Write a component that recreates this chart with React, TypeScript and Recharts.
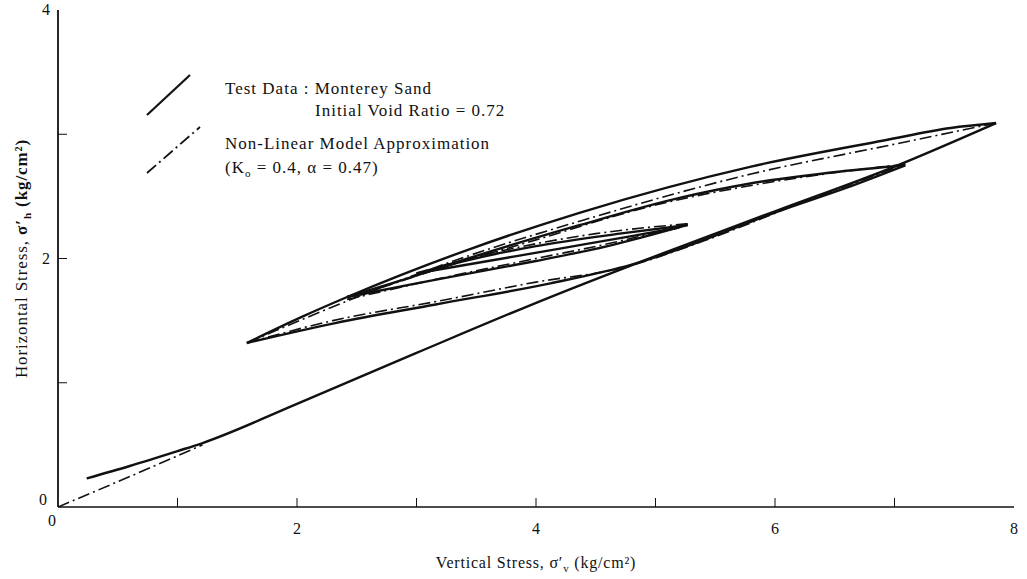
import React from 'react';
import { LineChart, Line, XAxis, YAxis, Legend, Label } from 'recharts';

// test data: Monterey sand, one branch per array
const testLoading = [
  { x: 0.24, y: 0.23 }, { x: 0.6, y: 0.33 }, { x: 1.0, y: 0.45 }, { x: 1.21, y: 0.515 },
  { x: 2, y: 0.83 }, { x: 3, y: 1.24 }, { x: 4.12, y: 1.69 }, { x: 5, y: 2.02 },
  { x: 6, y: 2.38 }, { x: 7, y: 2.74 }, { x: 7.85, y: 3.09 },
];
const testUnload1 = [
  { x: 7.85, y: 3.09 }, { x: 7.47, y: 3.05 }, { x: 6.91, y: 2.95 }, { x: 5.8, y: 2.74 },
  { x: 4.37, y: 2.37 }, { x: 3.43, y: 2.07 }, { x: 2.42, y: 1.69 }, { x: 2.04, y: 1.53 },
  { x: 1.58, y: 1.32 },
];
const testReload1 = [
  { x: 1.58, y: 1.32 }, { x: 2.32, y: 1.48 }, { x: 3.16, y: 1.63 }, { x: 4.12, y: 1.8 },
  { x: 4.8, y: 1.95 }, { x: 5.38, y: 2.14 }, { x: 6.0, y: 2.37 }, { x: 6.6, y: 2.57 },
  { x: 7.09, y: 2.75 },
];
const testUnload2 = [
  { x: 7.09, y: 2.75 }, { x: 6.55, y: 2.7 }, { x: 5.77, y: 2.6 }, { x: 5.21, y: 2.49 },
  { x: 4.37, y: 2.27 }, { x: 3.43, y: 2.0 }, { x: 2.86, y: 1.82 }, { x: 2.42, y: 1.69 },
];
const testReload2 = [
  { x: 2.42, y: 1.69 }, { x: 3.0, y: 1.8 }, { x: 3.5, y: 1.89 }, { x: 4.0, y: 1.98 },
  { x: 4.6, y: 2.1 }, { x: 5.27, y: 2.27 },
];
const testUnload3 = [
  { x: 5.27, y: 2.27 }, { x: 4.7, y: 2.2 }, { x: 4.0, y: 2.1 }, { x: 3.4, y: 1.98 }, { x: 3.0, y: 1.88 },
];
const testReload3 = [
  { x: 3.0, y: 1.88 }, { x: 3.6, y: 1.98 }, { x: 4.2, y: 2.08 }, { x: 4.8, y: 2.18 }, { x: 5.2, y: 2.25 },
];

// non-linear model (K0 = 0.4, alpha = 0.47)
const modelLoading = [{ x: 0, y: 0 }, { x: 0.6, y: 0.245 }, { x: 1.21, y: 0.5 }];
const modelUnload1 = [
  { x: 7.85, y: 3.09 }, { x: 7.0, y: 2.92 }, { x: 5.8, y: 2.68 }, { x: 4.4, y: 2.31 },
  { x: 3.4, y: 2.01 }, { x: 2.4, y: 1.65 }, { x: 1.58, y: 1.32 },
];
const modelReload1 = [
  { x: 1.58, y: 1.32 }, { x: 2.3, y: 1.5 }, { x: 3.2, y: 1.66 }, { x: 4.0, y: 1.81 },
  { x: 4.7, y: 1.92 }, { x: 5.4, y: 2.14 }, { x: 6.2, y: 2.44 }, { x: 7.09, y: 2.76 },
];
const modelUnload2 = [
  { x: 7.09, y: 2.76 }, { x: 6.0, y: 2.62 }, { x: 5.0, y: 2.43 }, { x: 4.0, y: 2.15 },
  { x: 3.0, y: 1.86 }, { x: 2.42, y: 1.67 },
];
const modelReload2 = [
  { x: 2.42, y: 1.67 }, { x: 3.2, y: 1.84 }, { x: 4.0, y: 2.0 }, { x: 4.7, y: 2.14 }, { x: 5.27, y: 2.28 },
];
const modelUnload3 = [
  { x: 5.27, y: 2.28 }, { x: 4.5, y: 2.2 }, { x: 3.8, y: 2.08 }, { x: 3.2, y: 1.94 },
];

const xTicks = [0, 1, 2, 3, 4, 5, 6, 7, 8];
const yTicks = [0, 1, 2, 3, 4];

const testSeries = [testLoading, testUnload1, testReload1, testUnload2, testReload2, testUnload3, testReload3];
const modelSeries = [modelLoading, modelUnload1, modelReload1, modelUnload2, modelReload2, modelUnload3];

const FONT = '"Liberation Serif", "DejaVu Serif", serif';
const INK = '#111';
const DASH_DOT = '12 4 2 4';

const XTick = (props: any) => {
  const { x, y, payload } = props;
  const v = payload.value;
  const label = v % 2 === 0;
  return (
    <g>
      {v > 0 && v < 8 && <line x1={x} y1={y} x2={x} y2={y - 9} stroke={INK} strokeWidth={1} />}
      {label && (
        <text x={v === 0 ? x - 6 : x} y={v === 0 ? y + 19 : y + 27} textAnchor="middle"
          fontFamily={FONT} fontSize={16} fill={INK}>{v}</text>
      )}
    </g>
  );
};

const YTick = (props: any) => {
  const { x, y, payload } = props;
  const v = payload.value;
  const label = v % 2 === 0;
  return (
    <g>
      {v > 0 && v < 4 && <line x1={x} y1={y} x2={x + 9} y2={y} stroke={INK} strokeWidth={1} />}
      {label && (
        <text x={v === 0 ? x - 11 : x - 8} y={v === 0 ? y - 2 : y + 5} textAnchor="end"
          fontFamily={FONT} fontSize={16} fill={INK}>{v}</text>
      )}
    </g>
  );
};

const XTitle = (props: any) => {
  const { viewBox } = props;
  const cx = viewBox.x + viewBox.width / 2;
  return (
    <text x={cx} y={viewBox.y + 61} textAnchor="middle" fontFamily={FONT} fontSize={16} fill={INK}
      style={{ letterSpacing: '0.8px' }}>
      <tspan>Vertical Stress,  σ′</tspan>
      <tspan dy={4} fontSize={11}>v</tspan>
      <tspan dy={-4}>  (kg/cm²)</tspan>
    </text>
  );
};

const YTitle = (props: any) => {
  const { viewBox } = props;
  const cy = viewBox.y + viewBox.height / 2;
  return (
    <text x={0} y={0} transform={`translate(27, ${cy}) rotate(-90)`} textAnchor="middle"
      fontFamily={FONT} fontSize={17} fill={INK} style={{ letterSpacing: '0.9px' }}>
      <tspan>Horizontal Stress,  </tspan>
      <tspan fontWeight="bold">σ′</tspan>
      <tspan dy={4} fontSize={11} fontWeight="bold">h</tspan>
      <tspan dy={-4} fontWeight="bold">  (kg/cm²)</tspan>
    </text>
  );
};

const LegendBox = () => (
  <svg width={440} height={125} style={{ display: 'block' }}>
    <line x1={17} y1={55} x2={60} y2={15} stroke={INK} strokeWidth={2.2} />
    <line x1={17} y1={113} x2={70} y2={67} stroke={INK} strokeWidth={1.8} strokeDasharray={DASH_DOT} />
    <g fontFamily={FONT} fontSize={17} fill={INK} style={{ letterSpacing: '1px' }}>
      <text x={95} y={34}>Test Data : Monterey Sand</text>
      <text x={185} y={56}>Initial Void Ratio = 0.72</text>
      <text x={95} y={89}>Non-Linear Model Approximation</text>
      <text x={95} y={113}>
        <tspan>(K</tspan>
        <tspan dy={4} fontSize={11}>o</tspan>
        <tspan dy={-4}> = 0.4,  α = 0.47)</tspan>
      </text>
    </g>
  </svg>
);

export default function App() {
  return (
    <div style={{ position: 'absolute', left: 0, top: 0, background: '#fff' }}>
      <LineChart width={1027} height={579} margin={{ top: 10, right: 13, bottom: 0, left: 0 }}>
        <XAxis xAxisId="b" type="number" dataKey="x" domain={[0, 8]} ticks={xTicks} interval={0}
          height={72} tickSize={0} tickMargin={0} tick={<XTick />} axisLine={{ stroke: INK, strokeWidth: 1.5 }}
          allowDataOverflow>
          <Label content={<XTitle />} />
        </XAxis>
        <XAxis xAxisId="t" orientation="top" type="number" dataKey="x" domain={[0, 8]} height={0}
          tick={false} tickLine={false} axisLine={{ stroke: INK, strokeWidth: 1.5 }} />
        <YAxis yAxisId="l" type="number" domain={[0, 4]} ticks={yTicks} interval={0} width={58}
          tickSize={0} tickMargin={0} tick={<YTick />} axisLine={{ stroke: INK, strokeWidth: 1.8 }}
          allowDataOverflow>
          <Label content={<YTitle />} />
        </YAxis>
        <YAxis yAxisId="r" orientation="right" type="number" domain={[0, 4]} width={0}
          tick={false} tickLine={false} axisLine={{ stroke: INK, strokeWidth: 1.5 }} />
        <Legend layout="horizontal" verticalAlign="middle" align="center" content={<LegendBox />}
          wrapperStyle={{ position: 'absolute', left: 130, top: 60, width: 440, height: 125 }} />
        {testSeries.map((seg, i) => (
          <Line key={'t' + i} xAxisId="b" yAxisId="l" data={seg} dataKey="y" type="monotone"
            stroke={INK} strokeWidth={2.4} dot={false} activeDot={false} isAnimationActive={false}
            legendType="none" />
        ))}
        {modelSeries.map((seg, i) => (
          <Line key={'m' + i} xAxisId="b" yAxisId="l" data={seg} dataKey="y" type="monotone"
            stroke={INK} strokeWidth={1.6} strokeDasharray={DASH_DOT} dot={false} activeDot={false}
            isAnimationActive={false} legendType="none" />
        ))}
      </LineChart>
    </div>
  );
}
